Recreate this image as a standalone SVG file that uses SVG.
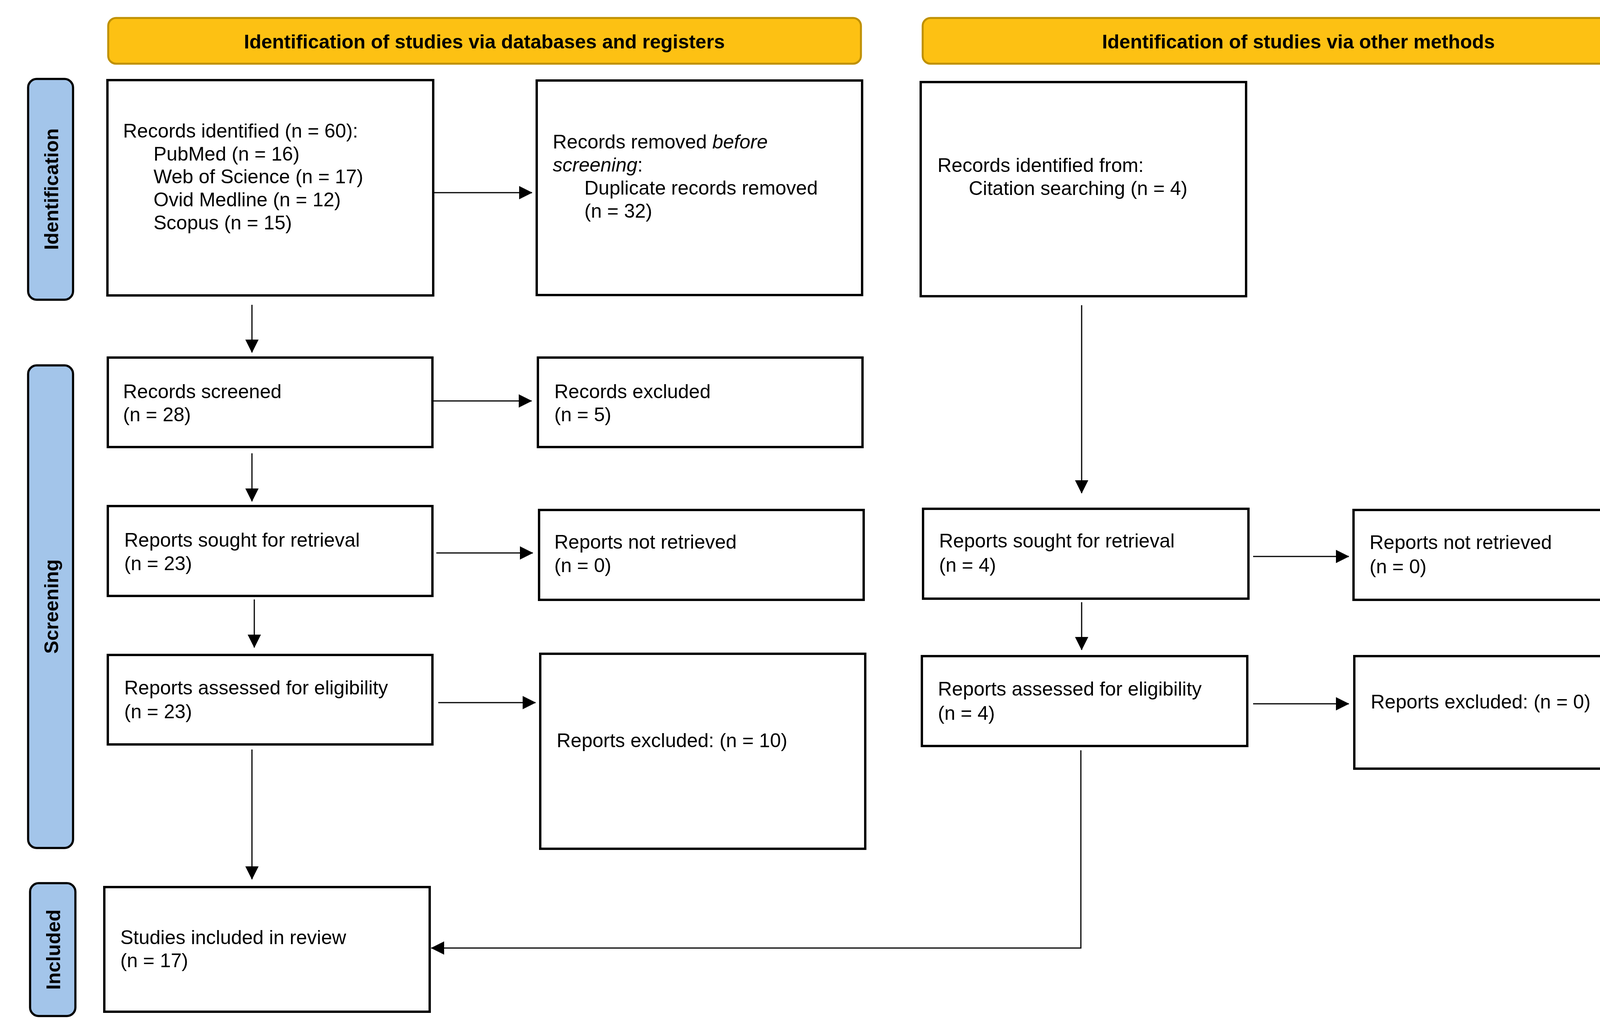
<svg xmlns="http://www.w3.org/2000/svg" width="4359" height="2646" viewBox="0 0 4359 2646">
<style>
.bg{fill:#ffffff}
.hdr{fill:#FDC113;stroke:#BF9000;stroke-width:5}
.side{fill:#A3C5EA;stroke:#000;stroke-width:5.5}
.box{fill:#fff;stroke:#000;stroke-width:6}
.t{font-family:"Liberation Sans",Arial,Helvetica,sans-serif;font-size:50px;fill:#000}
.hb{font-family:"Liberation Sans",Arial,Helvetica,sans-serif;font-size:50px;font-weight:bold;fill:#000;text-anchor:middle}
.sb{font-family:"Liberation Sans",Arial,Helvetica,sans-serif;font-size:50px;font-weight:bold;fill:#000;text-anchor:middle}
.c{fill:none;stroke:#000;stroke-width:3;marker-end:url(#ah)}
.i{font-style:italic}
</style>
<defs>
<marker id="ah" markerWidth="34" markerHeight="34" refX="33" refY="17" orient="auto" markerUnits="userSpaceOnUse">
<path d="M0,0 L34,17 L0,34 z" fill="#000"/>
</marker>
</defs>
<rect class="bg" x="0" y="0" width="4359" height="2646"/>

<g id="header-databases">
<rect class="hdr" x="277" y="46" width="1927" height="117" rx="20"/>
<text class="hb" x="1240" y="124">Identification of studies via databases and registers</text>
</g>
<g id="header-other">
<rect class="hdr" x="2362" y="46" width="1926" height="117" rx="20"/>
<text class="hb" x="3324" y="124">Identification of studies via other methods</text>
</g>

<g id="stage-identification">
<rect class="side" x="72" y="202" width="115" height="565" rx="22"/>
<text class="sb" transform="translate(149,484) rotate(-90)">Identification</text>
</g>
<g id="stage-screening">
<rect class="side" x="72" y="935" width="115" height="1235" rx="22"/>
<text class="sb" transform="translate(149,1552) rotate(-90)">Screening</text>
</g>
<g id="stage-included">
<rect class="side" x="77" y="2260" width="116" height="340" rx="22"/>
<text class="sb" transform="translate(154,2430) rotate(-90)">Included</text>
</g>

<g id="records-identified">
<rect class="box" x="275" y="205" width="834" height="551"/>
<text class="t" x="315" y="352">Records identified (n = 60):</text>
<text class="t" x="393" y="411">PubMed (n = 16)</text>
<text class="t" x="393" y="469">Web of Science (n = 17)</text>
<text class="t" x="393" y="528">Ovid Medline (n = 12)</text>
<text class="t" x="393" y="587">Scopus (n = 15)</text>
</g>
<g id="records-removed">
<rect class="box" x="1374" y="206" width="833" height="549"/>
<text class="t" x="1415" y="380">Records removed <tspan class="i">before</tspan></text>
<text class="t" x="1415" y="439"><tspan class="i">screening</tspan>:</text>
<text class="t" x="1496" y="498">Duplicate records removed</text>
<text class="t" x="1496" y="557">(n = 32)</text>
</g>
<g id="records-other">
<rect class="box" x="2357" y="210" width="833" height="548"/>
<text class="t" x="2400" y="440">Records identified from:</text>
<text class="t" x="2480" y="499">Citation searching (n = 4)</text>
</g>
<g id="records-screened">
<rect class="box" x="276" y="915" width="831" height="229"/>
<text class="t" x="315" y="1019">Records screened</text>
<text class="t" x="315" y="1078">(n = 28)</text>
</g>
<g id="records-excluded">
<rect class="box" x="1377" y="915" width="831" height="229"/>
<text class="t" x="1419" y="1019">Records excluded</text>
<text class="t" x="1419" y="1078">(n = 5)</text>
</g>
<g id="reports-sought">
<rect class="box" x="276" y="1295" width="831" height="230"/>
<text class="t" x="318" y="1399">Reports sought for retrieval</text>
<text class="t" x="318" y="1459">(n = 23)</text>
</g>
<g id="reports-not-retrieved">
<rect class="box" x="1380" y="1305" width="831" height="230"/>
<text class="t" x="1419" y="1404">Reports not retrieved</text>
<text class="t" x="1419" y="1464">(n = 0)</text>
</g>
<g id="reports-assessed">
<rect class="box" x="276" y="1676" width="831" height="229"/>
<text class="t" x="318" y="1777">Reports assessed for eligibility</text>
<text class="t" x="318" y="1838">(n = 23)</text>
</g>
<g id="reports-excluded">
<rect class="box" x="1383" y="1673" width="832" height="499"/>
<text class="t" x="1425" y="1912">Reports excluded: (n = 10)</text>
</g>
<g id="reports-sought-other">
<rect class="box" x="2363" y="1302" width="833" height="230"/>
<text class="t" x="2404" y="1401">Reports sought for retrieval</text>
<text class="t" x="2404" y="1463">(n = 4)</text>
</g>
<g id="reports-not-retrieved-other">
<rect class="box" x="3465" y="1305" width="834" height="230"/>
<text class="t" x="3506" y="1405">Reports not retrieved</text>
<text class="t" x="3506" y="1467">(n = 0)</text>
</g>
<g id="reports-assessed-other">
<rect class="box" x="2360" y="1679" width="833" height="230"/>
<text class="t" x="2401" y="1780">Reports assessed for eligibility</text>
<text class="t" x="2401" y="1842">(n = 4)</text>
</g>
<g id="reports-excluded-other">
<rect class="box" x="3467" y="1679" width="835" height="288"/>
<text class="t" x="3509" y="1813">Reports excluded: (n = 0)</text>
</g>
<g id="studies-included">
<rect class="box" x="267" y="2270" width="833" height="319"/>
<text class="t" x="308" y="2416">Studies included in review</text>
<text class="t" x="308" y="2475">(n = 17)</text>
</g>

<g id="connectors">
<line class="c" x1="1112" y1="493" x2="1362" y2="493"/>
<line class="c" x1="645" y1="780" x2="645" y2="902"/>
<line class="c" x1="1110" y1="1026" x2="1361" y2="1026"/>
<line class="c" x1="645" y1="1160" x2="645" y2="1283"/>
<line class="c" x1="1117" y1="1415" x2="1364" y2="1415"/>
<line class="c" x1="651" y1="1534" x2="651" y2="1657"/>
<line class="c" x1="1122" y1="1798" x2="1371" y2="1798"/>
<line class="c" x1="645" y1="1918" x2="645" y2="2250"/>
<line class="c" x1="2769" y1="781" x2="2769" y2="1262"/>
<line class="c" x1="3208" y1="1424" x2="3453" y2="1424"/>
<line class="c" x1="2769" y1="1541" x2="2769" y2="1663"/>
<line class="c" x1="3208" y1="1801" x2="3453" y2="1801"/>
<polyline class="c" points="2767,1920 2767,2426 1104,2426"/>
</g>
</svg>
